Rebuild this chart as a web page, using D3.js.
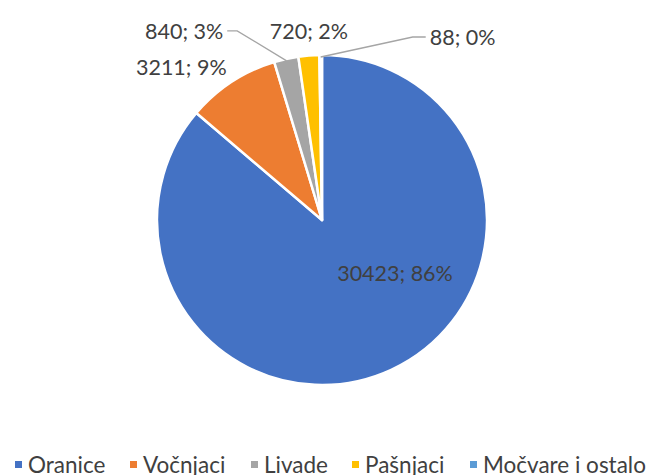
<!DOCTYPE html>
<html>
<head>
<meta charset="utf-8">
<script src="https://cdn.jsdelivr.net/npm/d3@7"></script>
<style>
  html, body { margin: 0; padding: 0; background: #fff; }
  svg { display: block; }
  text { font-family: Lato, "Open Sans", sans-serif; fill: #404040; }
</style>
</head>
<body>
<svg id="chart" width="646" height="475"></svg>
<script>
// Land use categories and their areas
const categories = ["Oranice", "Vočnjaci", "Livade", "Pašnjaci", "Močvare i ostalo"];
const values = [30423, 3211, 840, 720, 88];
const percentLabels = ["86%", "9%", "3%", "2%", "0%"];
const colors = ["#4472C4", "#ED7D31", "#A5A5A5", "#FFC000", "#5B9BD5"];

const width = 646, height = 475;
const cx = 322, cy = 220, radius = 165;

const svg = d3.select("#chart");
const g = svg.append("g").attr("transform", `translate(${cx},${cy})`);

const data = categories.map((c, i) => ({ name: c, value: values[i], pct: percentLabels[i], color: colors[i] }));

const pie = d3.pie().value(d => d.value).sort(null);
const arc = d3.arc().innerRadius(0).outerRadius(radius);
const arcs = pie(data);

g.selectAll("path.slice")
  .data(arcs)
  .join("path")
  .attr("class", "slice")
  .attr("d", arc)
  .attr("fill", d => d.data.color)
  .attr("stroke", "#fff")
  .attr("stroke-width", 2.5)
  .attr("stroke-linejoin", "round");

// point on the outer edge at the slice's middle angle
function edgePoint(d, r) {
  const a = (d.startAngle + d.endAngle) / 2;
  return [r * Math.sin(a), -r * Math.cos(a)];
}

// label placement: offset from the slice's outer edge point, optional leader elbow
const labelLayout = [
  { inside: true, dx: 73, dy: 53, anchor: "middle" },
  { dx: -5, dy: -15, anchor: "end" },
  { dx: -63, dy: -28, anchor: "end", elbow: [-49, -28], lineEnd: [-59, -28] },
  { dx: 0, dy: -25, anchor: "middle" },
  { dx: 109, dy: -18, anchor: "start", elbow: [92, -18], lineEnd: [105, -18] }
];

const fontSize = 21.5;

arcs.forEach((d, i) => {
  const L = labelLayout[i];
  const [px, py] = edgePoint(d, radius);
  const text = `${d.data.value}; ${d.data.pct}`;
  if (L.elbow) {
    const p0 = edgePoint(d, radius - 2);
    g.append("polyline")
      .attr("points", [[p0[0], p0[1]], [px + L.elbow[0], py + L.elbow[1]], [px + L.lineEnd[0], py + L.lineEnd[1]]].map(p => p.join(",")).join(" "))
      .attr("fill", "none")
      .attr("stroke", "#A5A5A5")
      .attr("stroke-width", 1.3);
  }
  const x = L.inside ? L.dx : px + L.dx;
  const y = L.inside ? L.dy : py + L.dy;
  g.append("text")
    .attr("x", x)
    .attr("y", y)
    .attr("text-anchor", L.anchor)
    .attr("dominant-baseline", "central")
    .style("font-size", fontSize + "px")
    .text(text);
});

// Legend along the bottom
const legendX = [15, 130, 251, 352, 470];
const legendY = 464.5;
const legend = svg.append("g");
data.forEach((d, i) => {
  const item = legend.append("g").attr("transform", `translate(${legendX[i]},${legendY})`);
  item.append("rect")
    .attr("x", 0).attr("y", -3.5)
    .attr("width", 7).attr("height", 7)
    .attr("fill", d.color);
  item.append("text")
    .attr("x", 13).attr("y", 0)
    .attr("dominant-baseline", "central")
    .style("font-size", "22.5px")
    .text(d.name);
});
</script>
</body>
</html>
